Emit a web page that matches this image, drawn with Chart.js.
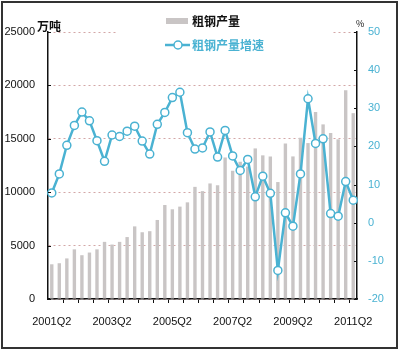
<!DOCTYPE html>
<html>
<head>
<meta charset="utf-8">
<script src="https://cdn.jsdelivr.net/npm/chart.js@4"></script>
<style>
  html, body { margin: 0; padding: 0; background: #fff; }
  #wrap { width: 400px; height: 351px; position: relative; }
</style>
</head>
<body>
<div id="wrap"><canvas id="steelChart" width="400" height="351"></canvas></div>
<script>
// 季度
const quarters = [
    '2001Q2', '2001Q3', '2001Q4',
    '2002Q1', '2002Q2', '2002Q3', '2002Q4',
    '2003Q1', '2003Q2', '2003Q3', '2003Q4',
    '2004Q1', '2004Q2', '2004Q3', '2004Q4',
    '2005Q1', '2005Q2', '2005Q3', '2005Q4',
    '2006Q1', '2006Q2', '2006Q3', '2006Q4',
    '2007Q1', '2007Q2', '2007Q3', '2007Q4',
    '2008Q1', '2008Q2', '2008Q3', '2008Q4',
    '2009Q1', '2009Q2', '2009Q3', '2009Q4',
    '2010Q1', '2010Q2', '2010Q3', '2010Q4',
    '2011Q1', '2011Q2'
];
// 粗钢产量 (万吨)
const output = [
    3250, 3350, 3800, 4650, 4100, 4350, 4650, 5350, 5100, 5350,
    5800, 6800, 6250, 6350, 7400, 8800, 8400, 8650, 9050, 10500,
    10100, 10820, 10650, 13250, 12000, 12850, 12400, 14100, 13450, 13350,
    10950, 14550, 13350, 15100, 14600, 17500, 16350, 15550, 14950, 19550,
    17400
];
// 粗钢产量增速 (%)
const growth = [
    7.8, 12.8, 20.3, 25.5, 29.0, 26.7, 21.5, 16.1, 23.0, 22.6,
    24.0, 25.3, 21.4, 18.0, 25.8, 28.9, 32.8, 34.2, 23.6, 19.3,
    19.6, 23.8, 17.2, 24.2, 17.5, 13.7, 16.6, 6.8, 12.2, 7.7,
    -12.5, 2.6, -0.9, 12.8, 32.5, 20.8, 22.0, 2.4, 1.7, 10.8,
    5.9
];
const leftTicks = [0, 5000, 10000, 15000, 20000, 25000];
const rightTicks = [-20, -10, 0, 10, 20, 30, 40, 50];

const BLUE = '#4ab2d2';
const BAR = '#c9c5c5';
const numFont = { family: '"Liberation Sans", Arial, sans-serif', size: 11 };
const cjk = '"Noto Sans CJK SC", sans-serif';

// 边框, 图例, 单位, 内侧刻度
const decor = {
    id: 'decor',
    afterDraw(chart) {
        const ctx = chart.ctx;
        const yl = chart.scales.y, yr = chart.scales.y1;
        ctx.save();
        ctx.strokeStyle = '#111';
        ctx.lineWidth = 1.2;
        ctx.beginPath();
        leftTicks.forEach(v => {
            const p = Math.round(yl.getPixelForValue(v)) + 0.5;
            ctx.moveTo(yl.right, p);
            ctx.lineTo(yl.right + 3, p);
        });
        rightTicks.forEach(v => {
            const p = Math.round(yr.getPixelForValue(v)) + 0.5;
            ctx.moveTo(yr.left, p);
            ctx.lineTo(yr.left - 3, p);
        });
        ctx.stroke();
        // 图例背景
        ctx.fillStyle = '#fff';
        ctx.fillRect(118, 8, 215, 50);
        ctx.fillStyle = BAR;
        ctx.fillRect(166, 18, 22, 6);
        ctx.font = 'bold 12px ' + cjk;
        ctx.textBaseline = 'middle';
        ctx.fillStyle = '#111';
        ctx.fillText('粗钢产量', 192, 21);
        ctx.strokeStyle = BLUE;
        ctx.lineWidth = 2.5;
        ctx.beginPath();
        ctx.moveTo(165, 45);
        ctx.lineTo(190, 45);
        ctx.stroke();
        ctx.beginPath();
        ctx.arc(178, 45, 4, 0, Math.PI * 2);
        ctx.fillStyle = '#fff';
        ctx.fill();
        ctx.lineWidth = 1.5;
        ctx.stroke();
        ctx.fillStyle = BLUE;
        ctx.fillText('粗钢产量增速', 192, 45);
        // 单位
        ctx.fillStyle = '#111';
        ctx.fillText('万吨', 37, 26);
        ctx.font = '9px ' + cjk;
        ctx.fillText('%', 356, 24);
        // 外框
        ctx.strokeStyle = '#333';
        ctx.lineWidth = 2;
        ctx.strokeRect(2, 2, 395, 346);
        ctx.restore();
    }
};

new Chart(document.getElementById('steelChart').getContext('2d'), {
    data: {
        labels: quarters,
        datasets: [
            {
                type: 'line',
                label: '粗钢产量增速',
                data: growth,
                yAxisID: 'y1',
                borderColor: BLUE,
                borderWidth: 2.5,
                pointRadius: 4,
                pointBorderWidth: 1.5,
                pointBackgroundColor: '#fff',
                pointBorderColor: BLUE,
                tension: 0,
                order: 0
            },
            {
                type: 'bar',
                label: '粗钢产量',
                data: output,
                yAxisID: 'y',
                backgroundColor: BAR,
                barPercentage: 0.45,
                categoryPercentage: 1,
                order: 1
            }
        ]
    },
    options: {
        responsive: false,
        animation: false,
        layout: { padding: { top: 32, left: 0, right: 0, bottom: 0 } },
        plugins: { legend: { display: false }, tooltip: { enabled: false } },
        scales: {
            x: {
                offset: true,
                grid: {
                    drawOnChartArea: false,
                    tickLength: 4,
                    color: (c) => (c.index % 2 === 0 && c.index > 0 ? '#111' : 'rgba(0,0,0,0)')
                },
                border: { color: '#111', width: 1.5 },
                ticks: {
                    autoSkip: false,
                    maxRotation: 0,
                    padding: 12,
                    color: '#111',
                    font: numFont,
                    callback: (v, i) => (i % 8 === 0 ? quarters[i] : '')
                },
                afterFit: (s) => { s.height = 52; }
            },
            y: {
                position: 'left',
                min: 0,
                max: 25000,
                afterBuildTicks: (s) => { s.ticks = leftTicks.map(v => ({ value: v })); },
                grid: { color: '#d3a7a7', lineWidth: 1, drawTicks: false },
                border: { color: '#111', width: 1.5, dash: [2, 3] },
                ticks: { padding: 13, color: '#111', font: numFont, callback: (v) => String(v) },
                afterFit: (s) => { s.width = 48; }
            },
            y1: {
                position: 'right',
                min: -20,
                max: 50,
                afterBuildTicks: (s) => { s.ticks = rightTicks.map(v => ({ value: v })); },
                grid: { drawOnChartArea: false, drawTicks: false },
                border: { color: '#111', width: 1.5 },
                ticks: { padding: 11, color: BLUE, font: numFont, callback: (v) => String(v) },
                afterFit: (s) => { s.width = 43; }
            }
        }
    },
    plugins: [decor]
});
</script>
</body>
</html>
